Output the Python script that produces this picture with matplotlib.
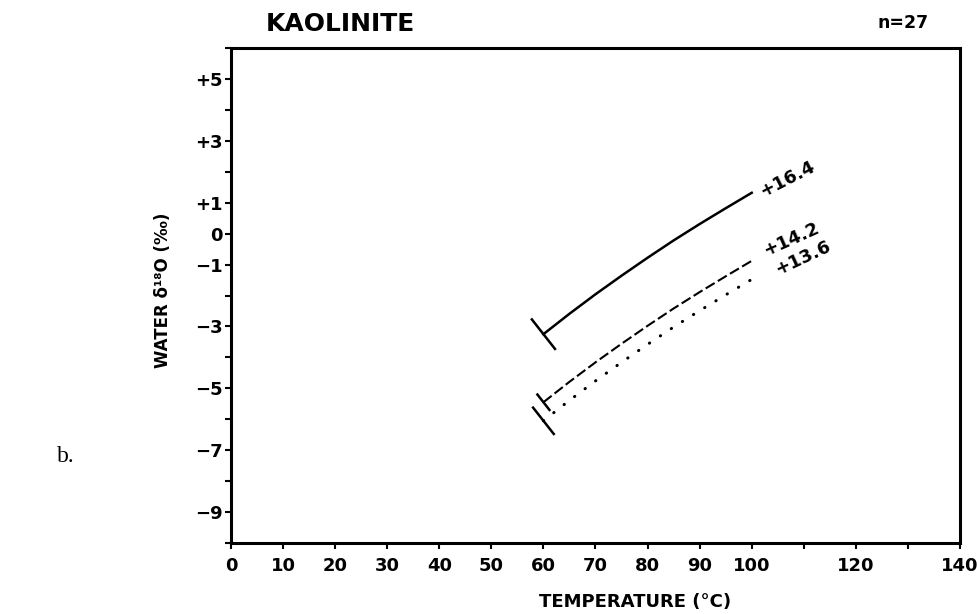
import matplotlib
matplotlib.use('Agg')
import matplotlib.pyplot as plt
import numpy as np

plt.rcParams['font.family'] = ['DejaVu Sans']

# ---- data ----
temps = [60, 65, 70, 75, 80, 85, 90, 95, 100]
water_164 = [-3.25, -2.59, -1.96, -1.36, -0.78, -0.22, 0.31, 0.82, 1.32]
water_142 = [-5.45, -4.79, -4.16, -3.56, -2.98, -2.42, -1.89, -1.38, -0.88]
water_136 = [-6.05, -5.39, -4.76, -4.16, -3.58, -3.02, -2.49, -1.98, -1.48]
series_labels = ['+16.4', '+14.2', '+13.6']

x_ticks = list(range(0, 141, 10))
x_ticklabels = ['0', '10', '20', '30', '40', '50', '60', '70', '80', '90', '100',
                '', '120', '', '140']
y_ticks = list(range(-10, 7))
y_label_map = {5: '+5', 3: '+3', 1: '+1', 0: '0', -1: '\u22121', -3: '\u22123',
               -5: '\u22125', -7: '\u22127', -9: '\u22129'}
y_ticklabels = [y_label_map.get(v, '') for v in y_ticks]

# ---- figure ----
fig = plt.figure(figsize=(9.78, 6.14), dpi=100)
W, H = 978, 614
left, right, top, bottom = 231, 960, 48, 543
ax = fig.add_axes([left / W, (H - bottom) / H, (right - left) / W, (bottom - top) / H])
ax.set_xlim(0, 140)
ax.set_ylim(-10, 6)

for s in ax.spines.values():
    s.set_linewidth(2.2)
    s.set_color('black')

ax.set_xticks(x_ticks)
ax.set_xticklabels(x_ticklabels, fontsize=13, fontweight='bold')
ax.set_yticks(y_ticks)
ax.set_yticklabels(y_ticklabels, fontsize=13, fontweight='bold')
ax.tick_params(axis='x', direction='out', length=4, width=1.5, pad=6)
ax.tick_params(axis='y', direction='out', length=4, width=1.5, pad=2)

styles = [
    dict(color='black', lw=1.8, linestyle='-'),
    dict(color='black', lw=1.5, linestyle=(0, (5, 1.8))),
    dict(color='black', lw=2.2, linestyle=(0, (0.1, 4.2)), dash_capstyle='round'),
]
all_series = [water_164, water_142, water_136]
bar_len = [40, 22, 36]
label_off = [(6.5, 0), (9, 7), (17.6, 6.7)]
label_rot = [27, 24, 25]

for ys, st in zip(all_series, styles):
    ax.plot(temps, ys, **st)

fig.canvas.draw()


def start_bar(xs, ys, length_px):
    p0 = ax.transData.transform((xs[0], ys[0]))
    p1 = ax.transData.transform((xs[1], ys[1]))
    d = (p1 - p0) / np.linalg.norm(p1 - p0)
    n = np.array([-d[1], d[0]])
    a = p0 + n * length_px / 2
    b = p0 - n * length_px / 2
    pts = ax.transData.inverted().transform(np.array([a, b]))
    ax.plot(pts[:, 0], pts[:, 1], color='black', lw=1.8, solid_capstyle='butt')


for ys, L, lab, off, rot in zip(all_series, bar_len, series_labels, label_off, label_rot):
    start_bar(temps, ys, L)
    ax.annotate(lab, xy=(temps[-1], ys[-1]), xytext=off, textcoords='offset points',
                ha='left', va='center', rotation=rot, rotation_mode='anchor',
                fontsize=13, fontweight='bold')

ax.set_xlim(0, 140)
ax.set_ylim(-10, 6)

# ---- texts ----
fig.text(340 / W, 1 - 24 / H, 'KAOLINITE', fontsize=18, fontweight='bold',
         ha='center', va='center')
fig.text(903 / W, 1 - 22.5 / H, 'n=27', fontsize=12.5, fontweight='bold',
         ha='center', va='center')
fig.text(163 / W, 1 - 290 / H, 'WATER \u03b4\u00b9\u2078O (\u2030)', fontsize=12,
         fontweight='bold', rotation=90, ha='center', va='center')
fig.text(635 / W, 1 - 602 / H, 'TEMPERATURE (\u00b0C)', fontsize=13,
         fontweight='bold', ha='center', va='center')
fig.text(66 / W, 1 - 457 / H, 'b.', fontsize=17, family='Liberation Serif',
         ha='center', va='center')

fig.savefig('out.png', dpi=100)
